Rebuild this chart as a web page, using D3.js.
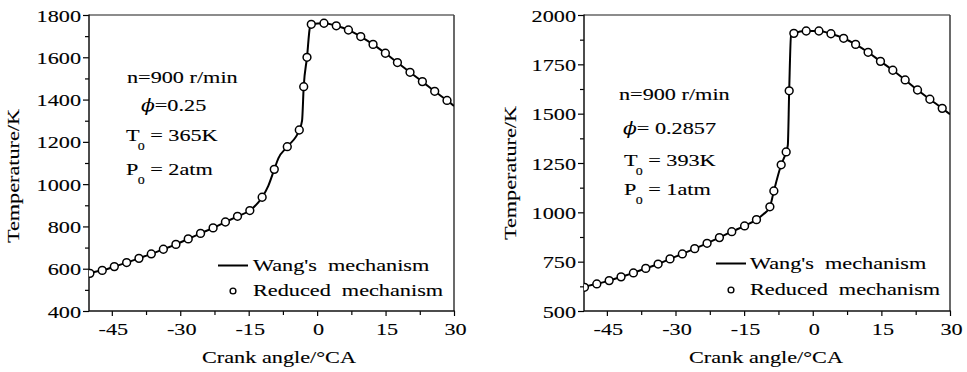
<!DOCTYPE html>
<html><head><meta charset="utf-8">
<script src="https://cdn.jsdelivr.net/npm/d3@7"></script>
<style>body{margin:0;background:#fff}svg{display:block}</style>
</head><body><svg id="c" width="967" height="372"></svg>
<script>
// ---- data ----
const angleTicks = [-45, -30, -15, 0, 15, 30];
const angleMinor = [-37.5, -22.5, -7.5, 7.5, 22.5];
const leftTempTicks = [400, 600, 800, 1000, 1200, 1400, 1600, 1800];
const leftTempMinor = [500, 700, 900, 1100, 1300, 1500, 1700];
const rightTempTicks = [500, 750, 1000, 1250, 1500, 1750, 2000];
const rightTempMinor = [625, 875, 1125, 1375, 1625, 1875];

const leftReducedAngle = [-49.8, -47.1, -44.45, -41.75, -39.05, -36.35, -33.7, -30.95, -28.25, -25.55, -22.8, -20.1, -17.45, -14.75, -12.05, -9.39, -6.54, -3.91, -2.94, -2.22, -1.28, 1.5, 4.2, 6.86, 9.56, 12.26, 14.96, 17.6, 20.36, 23.07, 25.77, 28.47];
const leftReducedTemp = [578, 592, 610, 629, 649, 670, 692, 715, 741, 767, 793, 821, 848, 875, 938, 1070, 1177, 1256, 1461, 1600, 1756, 1761, 1749, 1729, 1698, 1661, 1619, 1575, 1529, 1485, 1439, 1396];
const leftWangAngle = [-50, -49.8, -47.1, -44.45, -41.75, -39.05, -36.35, -33.7, -30.95, -28.25, -25.55, -22.8, -20.1, -17.45, -14.75, -12.05, -10.7, -9.39, -8.5, -6.54, -3.91, -3.3, -2.94, -2.22, -1.56, -1.28, 1.5, 4.2, 6.86, 9.56, 12.26, 14.96, 17.6, 20.36, 23.07, 25.77, 28.47, 30];
const leftWangTemp = [575, 578, 592, 610, 629, 649, 670, 692, 715, 741, 767, 793, 821, 848, 875, 938, 992, 1070, 1122, 1177, 1256, 1300, 1461, 1600, 1745, 1756, 1761, 1749, 1729, 1698, 1661, 1619, 1575, 1529, 1485, 1439, 1396, 1370];

const rightReducedAngle = [-49.9, -47.2, -44.5, -41.9, -39.2, -36.5, -33.8, -31.2, -28.5, -25.8, -23.1, -20.4, -17.7, -14.9, -12.3, -9.37, -8.5, -6.9, -5.81, -5.15, -4.13, -1.43, 1.35, 3.98, 6.75, 9.37, 12.1, 14.8, 17.5, 20.2, 22.9, 25.6, 28.3];
const rightReducedTemp = [620, 637, 654, 673, 693, 716, 738, 764, 789, 816, 843, 872, 902, 931, 963, 1028, 1108, 1241, 1306, 1616, 1907, 1919, 1919, 1905, 1882, 1851, 1811, 1765, 1720, 1671, 1620, 1573, 1527];
const rightWangAngle = [-50, -49.9, -47.2, -44.5, -41.9, -39.2, -36.5, -33.8, -31.2, -28.5, -25.8, -23.1, -20.4, -17.7, -14.9, -12.3, -10.8, -9.37, -8.5, -6.9, -5.81, -5.45, -5.15, -4.75, -4.13, -1.43, 1.35, 3.98, 6.75, 9.37, 12.1, 14.8, 17.5, 20.2, 22.9, 25.6, 28.3, 30];
const rightWangTemp = [618, 620, 637, 654, 673, 693, 716, 738, 764, 789, 816, 843, 872, 902, 931, 963, 990, 1028, 1108, 1241, 1306, 1340, 1616, 1895, 1907, 1919, 1919, 1905, 1882, 1851, 1811, 1765, 1720, 1671, 1620, 1573, 1527, 1497];

const xTitle = "Crank angle/°CA";
const yTitle = "Temperature/K";
const legendLabels = ["Wang's  mechanism", "Reduced  mechanism"];
const leftNotes = ["n=900 r/min", "=0.25", "365K", "2atm"];
const rightNotes = ["n=900 r/min", "= 0.2857", "393K", "1atm"];

// ---- drawing ----
const FONT = "'Liberation Serif','Times New Roman',serif";
const FS = 17.5, SX = 1.27, SW = 0.12;
const svg = d3.select("#c");

function stext(g, x, y, str, anchor, rot) {
  const t = g.append("text")
    .attr("transform", `translate(${x},${y})` + (rot ? ` rotate(${rot})` : "") + ` scale(${SX},1)`)
    .attr("text-anchor", anchor || "start")
    .attr("font-family", FONT).attr("font-size", FS).attr("fill", "#000")
    .attr("stroke", "#000").attr("stroke-width", SW)
    .style("white-space", "pre")
    .text(str);
  return t;
}

function panel(cfg) {
  const x = d3.scaleLinear().domain([-50, 30]).range([cfg.x0, cfg.x1]);
  const y = d3.scaleLinear().domain(cfg.yDomain).range([cfg.y1, cfg.y0]);
  const g = svg.append("g");
  const clipId = "clip" + cfg.id;
  svg.append("clipPath").attr("id", clipId).append("rect")
    .attr("x", cfg.x0).attr("y", cfg.y0).attr("width", cfg.x1 - cfg.x0).attr("height", cfg.y1 - cfg.y0);

  // minor ticks
  g.append("g").attr("transform", `translate(0,${cfg.y1})`)
    .call(d3.axisBottom(x).tickValues(angleMinor).tickSize(4).tickSizeOuter(0).tickFormat(""))
    .call(a => a.select(".domain").remove())
    .call(a => a.selectAll("line").attr("stroke", "#000").attr("stroke-width", 1.2));
  g.append("g").attr("transform", `translate(${cfg.x0},0)`)
    .call(d3.axisLeft(y).tickValues(cfg.yMinor).tickSize(4).tickSizeOuter(0).tickFormat(""))
    .call(a => a.select(".domain").remove())
    .call(a => a.selectAll("line").attr("stroke", "#000").attr("stroke-width", 1.2));

  // major x axis
  const xa = g.append("g").attr("transform", `translate(0,${cfg.y1})`)
    .call(d3.axisBottom(x).tickValues(angleTicks).tickSize(5).tickSizeOuter(0).tickFormat(d3.format("d")));
  xa.select(".domain").remove();
  xa.selectAll("line").attr("stroke", "#000").attr("stroke-width", 1.2);
  xa.selectAll("text").attr("y", null).attr("dy", null)
    .attr("transform", `translate(1,24) scale(${SX},1)`)
    .attr("font-family", FONT).attr("font-size", FS).attr("fill", "#000")
    .attr("stroke", "#000").attr("stroke-width", SW)
    .text(d => d < 0 ? "-" + Math.abs(d) : d);

  // major y axis
  const ya = g.append("g").attr("transform", `translate(${cfg.x0},0)`)
    .call(d3.axisLeft(y).tickValues(cfg.yTicks).tickSize(6).tickSizeOuter(0).tickFormat(d3.format("d")));
  ya.select(".domain").remove();
  ya.selectAll("line").attr("stroke", "#000").attr("stroke-width", 1.2);
  ya.selectAll("text").attr("x", null).attr("dy", null)
    .attr("transform", `translate(-8,6) scale(${SX},1)`)
    .attr("font-family", FONT).attr("font-size", FS).attr("fill", "#000")
    .attr("stroke", "#000").attr("stroke-width", SW);

  // frame
  g.append("line").attr("x1", cfg.x0).attr("x2", cfg.x1).attr("y1", cfg.y0).attr("y2", cfg.y0)
    .attr("stroke", "#666").attr("stroke-width", 1.3);
  g.append("line").attr("x1", cfg.x1).attr("x2", cfg.x1).attr("y1", cfg.y0).attr("y2", cfg.y1)
    .attr("stroke", "#444").attr("stroke-width", 1.6);
  g.append("line").attr("x1", cfg.x0).attr("x2", cfg.x0).attr("y1", cfg.y0 - 0.6).attr("y2", cfg.y1)
    .attr("stroke", "#111").attr("stroke-width", 1.5);
  g.append("line").attr("x1", cfg.x0).attr("x2", cfg.x1 + 0.8).attr("y1", cfg.y1).attr("y2", cfg.y1)
    .attr("stroke", "#111").attr("stroke-width", 1.5);

  // data
  const plot = g.append("g").attr("clip-path", `url(#${clipId})`);
  const lineData = cfg.wangA.map((a, i) => [a, cfg.wangT[i]]);
  plot.append("path").datum(lineData)
    .attr("d", d3.line().x(d => x(d[0])).y(d => y(d[1])).curve(d3.curveMonotoneX))
    .attr("fill", "none").attr("stroke", "#000").attr("stroke-width", 2);
  const pts = cfg.redA.map((a, i) => [a, cfg.redT[i]]);
  plot.selectAll("circle").data(pts).join("circle")
    .attr("cx", d => x(d[0])).attr("cy", d => y(d[1])).attr("r", 3.9)
    .attr("fill", "#fff").attr("stroke", "#000").attr("stroke-width", 1.5);

  // axis titles
  stext(g, cfg.xTitleX, 363, xTitle, "middle");
  stext(g, cfg.yTitleX, cfg.yTitleY, yTitle, "middle", -90);

  // annotations
  const n = cfg.notes, p = cfg.notePos;
  stext(g, p.nx, p.ny, n[0]);
  const phi = stext(g, p.px, p.py, "");
  phi.append("tspan").attr("font-style", "italic").attr("font-family", "'DejaVu Serif','Liberation Serif',serif").attr("font-size", 16).attr("stroke-width", 0).text("ϕ");
  phi.append("tspan").text(n[1]);
  const t0 = stext(g, p.tx, p.ty, "T");
  t0.append("tspan").attr("font-size", 11).attr("dx", -1.5).attr("dy", 9).text("0");
  t0.append("tspan").attr("dy", -9).text(" = " + n[2]);
  const p0 = stext(g, p.tx, p.qy, "P");
  p0.append("tspan").attr("font-size", 11).attr("dx", -0.5).attr("dy", 9).text("0");
  p0.append("tspan").attr("dy", -9).text(" = " + n[3]);

  // legend
  const L = cfg.leg;
  g.append("line").attr("x1", L.lx1).attr("x2", L.lx2).attr("y1", L.ly).attr("y2", L.ly)
    .attr("stroke", "#000").attr("stroke-width", 2);
  stext(g, L.tx, L.ty1, legendLabels[0]);
  g.append("circle").attr("cx", L.cx).attr("cy", L.cy).attr("r", 2.9)
    .attr("fill", "#fff").attr("stroke", "#000").attr("stroke-width", 1.4);
  stext(g, L.tx, L.ty2, legendLabels[1]);
}

panel({
  id: "L", x0: 89, x1: 454, y0: 15, y1: 311, yDomain: [400, 1800],
  yTicks: leftTempTicks, yMinor: leftTempMinor,
  wangA: leftWangAngle, wangT: leftWangTemp, redA: leftReducedAngle, redT: leftReducedTemp,
  xTitleX: 279, yTitleX: 19, yTitleY: 176,
  notes: leftNotes,
  notePos: {nx: 127, ny: 83, px: 141, py: 111, tx: 126, ty: 141, qy: 175},
  leg: {lx1: 218, lx2: 248, ly: 265.5, tx: 253, ty1: 270.5, ty2: 296, cx: 233, cy: 291}
});
panel({
  id: "R", x0: 584, x1: 950, y0: 15, y1: 311, yDomain: [500, 2000],
  yTicks: rightTempTicks, yMinor: rightTempMinor,
  wangA: rightWangAngle, wangT: rightWangTemp, redA: rightReducedAngle, redT: rightReducedTemp,
  xTitleX: 766, yTitleX: 516, yTitleY: 173,
  notes: rightNotes,
  notePos: {nx: 619, ny: 100, px: 623, py: 134, tx: 624, ty: 166, qy: 195},
  leg: {lx1: 716, lx2: 746, ly: 263.5, tx: 750, ty1: 268.5, ty2: 295, cx: 731, cy: 290}
});
</script></body></html>
